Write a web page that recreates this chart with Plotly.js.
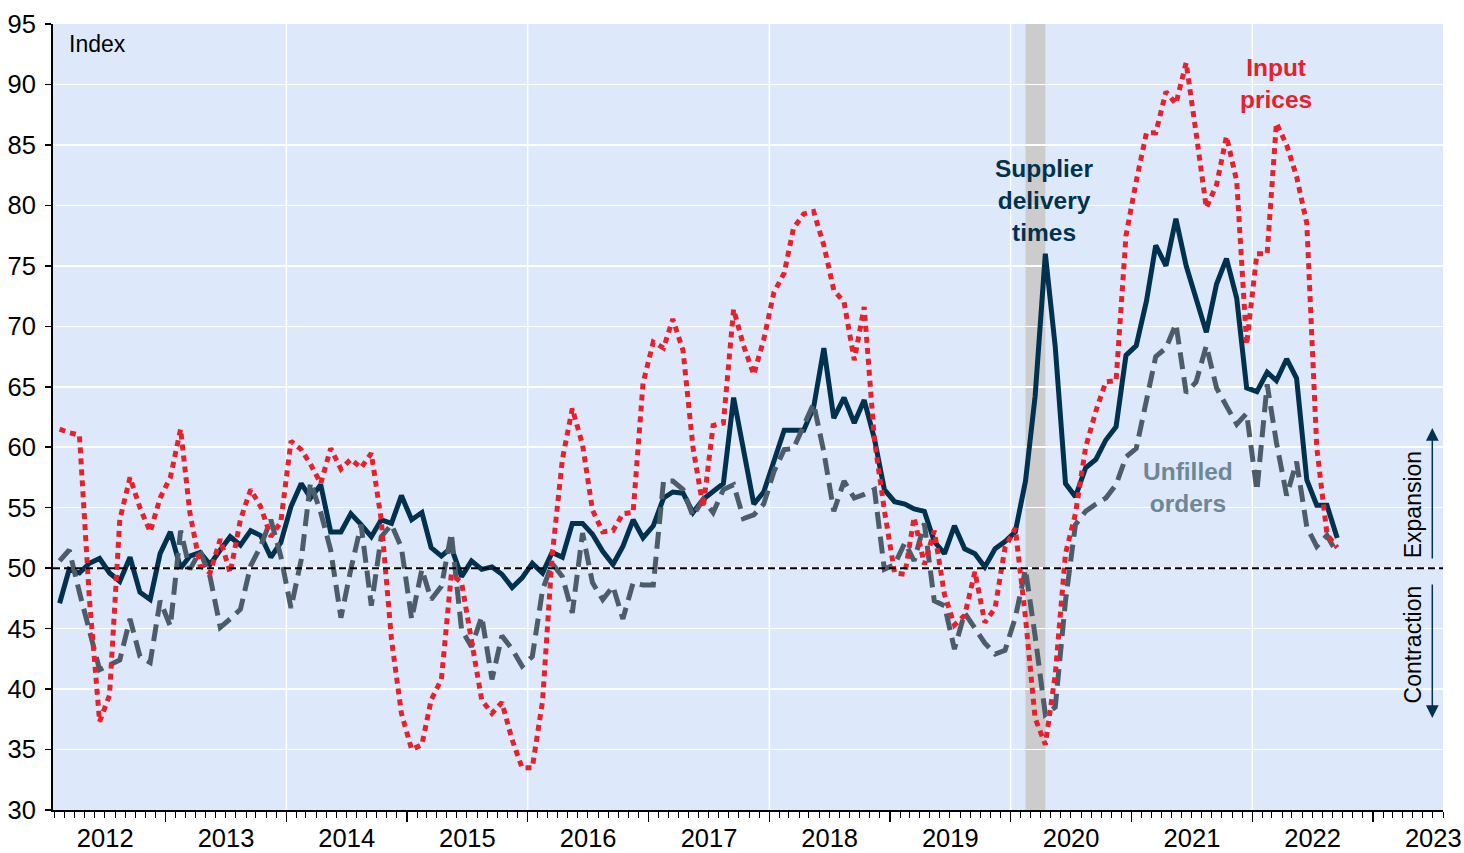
<!DOCTYPE html>
<html>
<head>
<meta charset="utf-8">
<script src="https://cdn.plot.ly/plotly-3.0.1.min.js"></script>
<style>html,body{margin:0;padding:0;background:#fff;}#chart{width:1464px;height:853px;}</style>
</head>
<body>
<div id="chart"></div>
<script>
// Monthly observations, Feb 2012 .. Sep 2022 (plotted mid-month)
const startYear = 2012, startMonth = 2, nMonths = 128;

const supplierDelivery = [
  47.1, 49.9, 49.6, 50.4, 50.8, 49.6, 48.9, 50.9, 48.0, 47.4, 51.2,
  53.0, 50.0, 51.0, 51.3, 50.3, 51.5, 52.6, 51.9, 53.1, 52.7, 50.9, 52.1,
  55.1, 57.0, 55.8, 56.9, 53.0, 53.0, 54.5, 53.6, 52.6, 54.0, 53.7, 56.0,
  54.0, 54.6, 51.7, 51.0, 51.7, 49.3, 50.6, 49.9, 50.1, 49.5, 48.4, 49.2,
  50.4, 49.6, 51.3, 50.9, 53.7, 53.7, 52.8, 51.4, 50.3, 51.8, 54.0, 52.5,
  53.5, 55.8, 56.3, 56.2, 54.6, 55.7, 56.4, 57.0, 64.1, 59.8, 55.3, 56.3,
  58.9, 61.4, 61.4, 61.4, 63.3, 68.2, 62.4, 64.1, 62.0, 63.9, 60.7, 56.5,
  55.5, 55.3, 54.9, 54.7, 52.2, 51.2, 53.5, 51.6, 51.2, 50.1, 51.6, 52.2,
  53.0, 57.2, 64.2, 76.0, 68.3, 57.0, 55.9, 58.3, 59.0, 60.6, 61.7, 67.6,
  68.4, 72.1, 76.7, 75.0, 78.9, 75.0, 72.3, 69.5, 73.5, 75.6, 72.3, 64.9,
  64.6, 66.2, 65.5, 67.3, 65.7, 57.3, 55.2, 55.2, 52.5
];

const inputPrices = [
  61.5, 61.2, 61.0, 47.5, 37.3, 39.5, 54.0, 57.5, 55.0, 53.0, 55.8,
  57.5, 61.5, 54.6, 50.2, 49.6, 52.4, 49.6, 54.0, 56.5, 55.1, 52.6, 53.8,
  60.5, 59.8, 58.6, 57.0, 59.9, 58.2, 59.0, 58.3, 59.5, 54.0, 44.1, 38.0,
  35.0, 35.4, 39.1, 40.8, 49.5, 48.8, 43.8, 39.1, 38.0, 38.9, 35.8, 33.5,
  33.5, 39.0, 51.0, 59.0, 63.2, 60.2, 54.8, 53.0, 53.1, 54.5, 54.6, 65.3,
  68.7, 68.2, 70.6, 68.0, 60.0, 55.0, 61.8, 62.0, 71.4, 68.4, 66.0, 68.9,
  72.8, 74.4, 78.1, 79.3, 79.5, 76.7, 73.0, 72.0, 67.2, 71.6, 60.6, 54.8,
  49.6, 49.5, 54.2, 50.3, 53.1, 47.8, 45.3, 46.1, 49.7, 45.5, 46.7, 51.7,
  53.3, 45.9, 37.6, 35.4, 41.2, 51.2, 54.5, 60.0, 63.0, 65.4, 65.5, 77.5,
  82.0, 86.0, 86.0, 89.4, 88.4, 91.8, 86.0, 79.8, 81.7, 85.7, 82.0, 68.5,
  76.0, 76.0, 86.8, 85.0, 82.4, 78.5, 60.0, 52.8, 51.7
];

const unfilledOrders = [
  50.6, 51.5, 48.0, 44.7, 41.6, 42.0, 42.4, 45.8, 42.7, 42.2, 47.3,
  45.2, 53.1, 49.9, 51.4, 49.3, 45.1, 45.8, 46.6, 50.2, 51.8, 54.0, 51.0,
  46.7, 50.7, 57.1, 54.6, 51.5, 45.9, 49.9, 53.6, 46.9, 52.6, 53.6, 51.7,
  45.8, 49.9, 47.4, 48.5, 52.9, 44.9, 43.5, 46.0, 40.8, 44.4, 43.3, 41.9,
  42.7, 48.2, 50.4, 49.3, 46.3, 52.9, 48.8, 47.4, 48.5, 45.8, 48.8, 48.6,
  48.6, 57.2, 57.2, 56.5, 54.3, 55.7, 54.6, 56.5, 56.9, 54.1, 54.4, 55.3,
  58.0, 59.8, 59.9, 61.8, 63.6, 59.6, 54.7, 57.2, 55.8, 56.1, 56.5, 49.9,
  50.3, 52.1, 50.6, 53.7, 47.3, 46.9, 43.3, 46.3, 45.0, 43.8, 42.9, 43.2,
  45.9, 49.9, 44.4, 37.9, 38.5, 47.3, 53.6, 54.7, 55.3, 55.8, 56.9, 59.2,
  59.9, 63.8, 67.5, 68.2, 70.2, 64.5, 65.4, 68.4, 64.9, 63.4, 61.9, 62.8,
  56.4, 65.2, 60.4, 56.0, 58.8, 53.4, 51.8, 52.7, 51.2
];

const recession = ['2020-02-15', '2020-04-15'];
const gridYears = [2014, 2016, 2018, 2020, 2022];

// month dates (categories)
const dates = [];
for (let k = 0; k < nMonths; k++) {
  const m0 = startMonth - 1 + k;
  const y = startYear + Math.floor(m0 / 12);
  const m = (m0 % 12) + 1;
  dates.push(y + '-' + String(m).padStart(2, '0') + '-15');
}

const NAVY = '#00324f', RED = '#e8202c', GRAY = '#4c5d69', SLATE = '#6d8796';
const FONT = 'Liberation Sans, Arial, sans-serif';

const traces = [
  {x: dates, y: supplierDelivery, type: 'scatter', mode: 'lines', name: 'Supplier delivery times',
   line: {color: NAVY, width: 5}},
  {x: dates, y: unfilledOrders, type: 'scatter', mode: 'lines', name: 'Unfilled orders',
   line: {color: GRAY, width: 5, dash: '17px,8px'}},
  {x: dates, y: inputPrices, type: 'scatter', mode: 'lines', name: 'Input prices',
   line: {color: RED, width: 5, dash: '6px,5px'}}
];

const shapes = [
  {type: 'rect', xref: 'x', yref: 'paper', x0: recession[0], x1: recession[1], y0: 0, y1: 1,
   fillcolor: '#cccccc', line: {width: 0}, layer: 'below'}
];
gridYears.forEach(function (yr) {
  shapes.push({type: 'line', xref: 'x', yref: 'paper', x0: yr + '-01-01', x1: yr + '-01-01', y0: 0, y1: 1,
    line: {color: '#ffffff', width: 1.5}, layer: 'below'});
});
shapes.push({type: 'line', xref: 'paper', yref: 'y', x0: 0, x1: 1, y0: 50, y1: 50,
  line: {color: '#000000', width: 2, dash: '7px,4px'}, layer: 'above'});

const annotations = [
  {xref: 'paper', yref: 'paper', x: 0.0099, y: 0.9746, xanchor: 'left', yanchor: 'middle',
   text: 'Index', showarrow: false, font: {family: FONT, size: 23, color: '#000'}},
  {xref: 'paper', yref: 'paper', x: 0.713, y: 0.776, xanchor: 'center', yanchor: 'middle',
   text: '<b>Supplier<br>delivery<br>times</b>', showarrow: false,
   font: {family: FONT, size: 24.5, color: NAVY}},
  {xref: 'paper', yref: 'paper', x: 0.880, y: 0.9237, xanchor: 'center', yanchor: 'middle',
   text: '<b>Input<br>prices</b>', showarrow: false, font: {family: FONT, size: 24.5, color: RED}},
  {xref: 'paper', yref: 'paper', x: 0.8167, y: 0.4097, xanchor: 'center', yanchor: 'middle',
   text: '<b>Unfilled<br>orders</b>', showarrow: false, font: {family: FONT, size: 24.5, color: SLATE}},
  {xref: 'paper', yref: 'paper', x: 0.9786, y: 0.388, xanchor: 'center', yanchor: 'middle',
   text: 'Expansion', textangle: -90, showarrow: false, font: {family: FONT, size: 23, color: '#000'}},
  {xref: 'paper', yref: 'paper', x: 0.9786, y: 0.211, xanchor: 'center', yanchor: 'middle',
   text: 'Contraction', textangle: -90, showarrow: false, font: {family: FONT, size: 23, color: '#000'}},
  {xref: 'paper', yref: 'y', x: 0.9923, y: 61.6, ax: 0, ay: 132, text: '', showarrow: true,
   arrowhead: 2, arrowsize: 1.7, arrowwidth: 1.5, arrowcolor: NAVY},
  {xref: 'paper', yref: 'y', x: 0.9923, y: 37.6, ax: 0, ay: -135, text: '', showarrow: true,
   arrowhead: 2, arrowsize: 1.7, arrowwidth: 1.5, arrowcolor: NAVY}
];

const layout = {
  width: 1464, height: 853,
  margin: {l: 53, r: 21, t: 24, b: 43},
  paper_bgcolor: '#ffffff',
  plot_bgcolor: '#dde9fb',
  showlegend: false,
  font: {family: FONT, size: 26, color: '#000'},
  xaxis: {
    type: 'date', range: ['2012-01-26', '2023-08-01'],
    showgrid: false, zeroline: false,
    showline: true, linecolor: '#000', linewidth: 2,
    ticks: 'outside', ticklen: 10, tickwidth: 1.5, tickcolor: '#000',
    dtick: 'M12', tick0: '2012-01-01', tickformat: '%Y', ticklabelmode: 'period',
    ticklabelstandoff: -6,
    tickfont: {family: FONT, size: 25.5, color: '#000'},
    minor: {dtick: 'M1', ticks: 'outside', ticklen: 6, tickwidth: 1, tickcolor: '#000', showgrid: false}
  },
  yaxis: {
    range: [30, 95], dtick: 5, tick0: 30,
    showgrid: true, gridcolor: '#ffffff', gridwidth: 1.5, zeroline: false,
    showline: true, linecolor: '#000', linewidth: 2,
    ticks: 'outside', ticklen: 6, tickwidth: 1.5, tickcolor: '#000',
    ticklabelstandoff: 4,
    tickfont: {family: FONT, size: 25.5, color: '#000'}
  },
  shapes: shapes,
  annotations: annotations
};

Plotly.newPlot('chart', traces, layout, {displayModeBar: false, staticPlot: true});
</script>
</body>
</html>
